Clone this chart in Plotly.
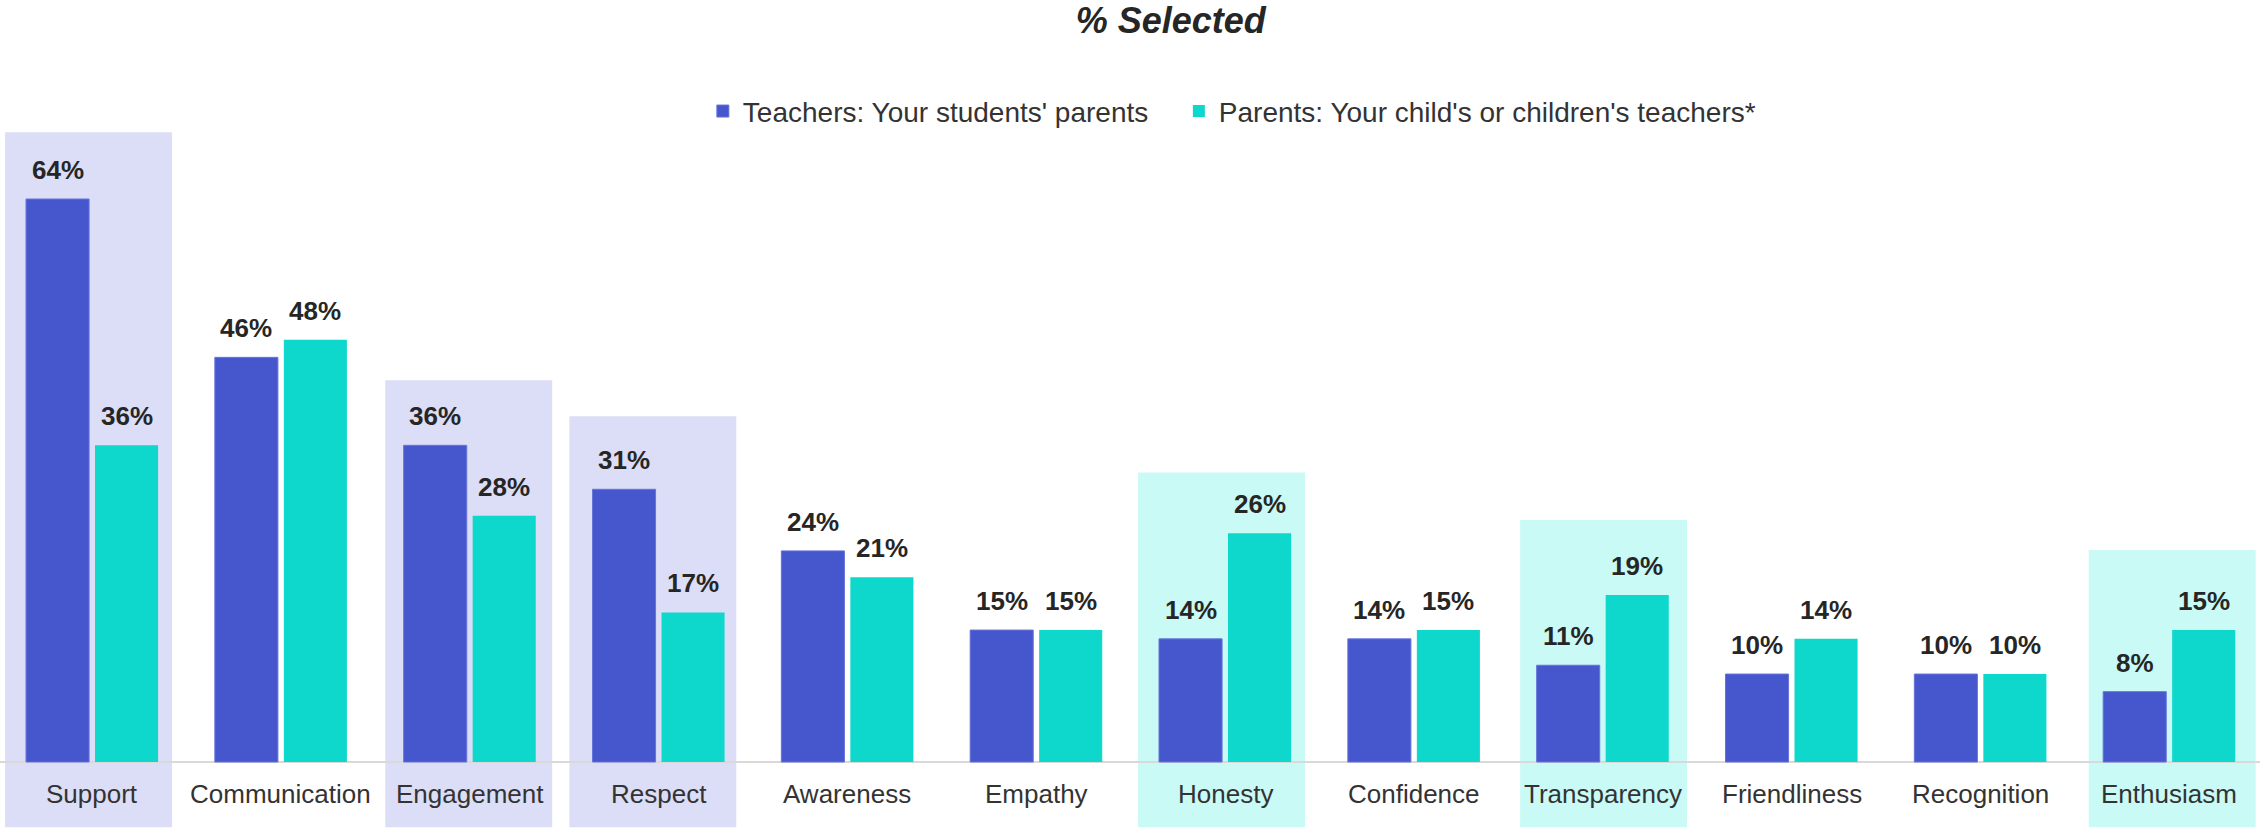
import plotly.graph_objects as go

# ---------------- data ----------------
categories = ["Support", "Communication", "Engagement", "Respect", "Awareness", "Empathy",
              "Honesty", "Confidence", "Transparency", "Friendliness", "Recognition", "Enthusiasm"]
teachers = [64, 46, 36, 31, 24, 15, 14, 14, 11, 10, 10, 8]
parents = [36, 48, 28, 17, 21, 15, 26, 15, 19, 14, 10, 15]
series_names = ["Teachers: Your students' parents", "Parents: Your child's or children's teachers*"]
highlight_teachers = ["Support", "Engagement", "Respect"]
highlight_parents = ["Honesty", "Transparency", "Enthusiasm"]
title_text = "% Selected"

# ---------------- style ----------------
FONT = "Arial, 'Liberation Sans', sans-serif"
BLUE = "#4656CC"
TEAL = "#0ED7CC"
BOX_BLUE = "#DCDDF6"
BOX_TEAL = "#C9FAF6"
TEXT = "#262626"
BAR_W = 0.334
OFF_T = -0.3495
OFF_P = 0.0159
Y_MIN, Y_MAX = -7.84, 86.62
# highlight box styling: (padding above tallest bar in axis units, horizontal nudge)
BOX_STYLE = {
    "Support": (7.6, -0.018), "Engagement": (7.4, -0.005), "Respect": (8.3, -0.03),
    "Honesty": (6.9, -0.018), "Transparency": (8.5, 0.005), "Enthusiasm": (9.1, 0.016),
}
BOX_HALF = 0.442

xs = list(range(len(categories)))

fig = go.Figure()
fig.add_trace(go.Bar(x=xs, y=teachers, name=series_names[0], width=BAR_W, offset=OFF_T,
                     legendwidth=431,
                     marker=dict(color=BLUE, line=dict(color="#6674DA", width=1))))
fig.add_trace(go.Bar(x=xs, y=parents, name=series_names[1], width=BAR_W, offset=OFF_P,
                     legendwidth=600,
                     marker=dict(color=TEAL, line=dict(color=TEAL, width=0))))

annotations = []
for vals, off in ((teachers, OFF_T), (parents, OFF_P)):
    for i, v in zip(xs, vals):
        annotations.append(dict(x=i + off + BAR_W / 2, y=v, xref="x", yref="y", text=f"{v}%",
                                showarrow=False, yanchor="bottom", yshift=12,
                                font=dict(family=FONT, size=26, color=TEXT, weight="bold")))
for i, c in zip(xs, categories):
    annotations.append(dict(x=i, y=-3.64, xref="x", yref="y", text=c, showarrow=False,
                            yanchor="middle", font=dict(family=FONT, size=26, color="#333333")))

shapes = []
for names, color in ((highlight_teachers, BOX_BLUE), (highlight_parents, BOX_TEAL)):
    for c in names:
        i = categories.index(c)
        pad, dx = BOX_STYLE[c]
        top = max(teachers[i], parents[i]) + pad
        shapes.append(dict(type="rect", xref="x", yref="y", x0=i + dx - BOX_HALF,
                           x1=i + dx + BOX_HALF, y0=-7.4, y1=top, fillcolor=color,
                           line=dict(width=0), layer="below"))

fig.update_layout(
    width=2260, height=831,
    margin=dict(l=0, r=0, t=0, b=0),
    paper_bgcolor="white", plot_bgcolor="white",
    barmode="overlay",
    font=dict(family=FONT, color=TEXT),
    title=dict(text=title_text, x=0.518, xanchor="center", y=0.976, yanchor="middle",
               xref="paper", yref="container",
               font=dict(family=FONT, size=36, color=TEXT, weight="bold", style="italic")),
    legend=dict(orientation="h", x=0.311, xanchor="left", y=0.866, yanchor="middle",
                font=dict(family=FONT, size=28, color="#333333"), bgcolor="rgba(0,0,0,0)",
                itemclick=False, traceorder="normal"),
    xaxis=dict(range=[-0.4872, 11.481], showticklabels=False, showgrid=False, zeroline=False,
               showline=False, ticks=""),
    yaxis=dict(range=[Y_MIN, Y_MAX], showticklabels=False, showgrid=False, zeroline=True,
               zerolinecolor="#D9D9D9", zerolinewidth=2, showline=False, ticks=""),
    annotations=annotations,
    shapes=shapes,
    showlegend=True,
)

fig.write_html("out.html", config={"displayModeBar": False},
               post_script="document.body.style.margin='0';document.body.style.overflow='hidden';")
